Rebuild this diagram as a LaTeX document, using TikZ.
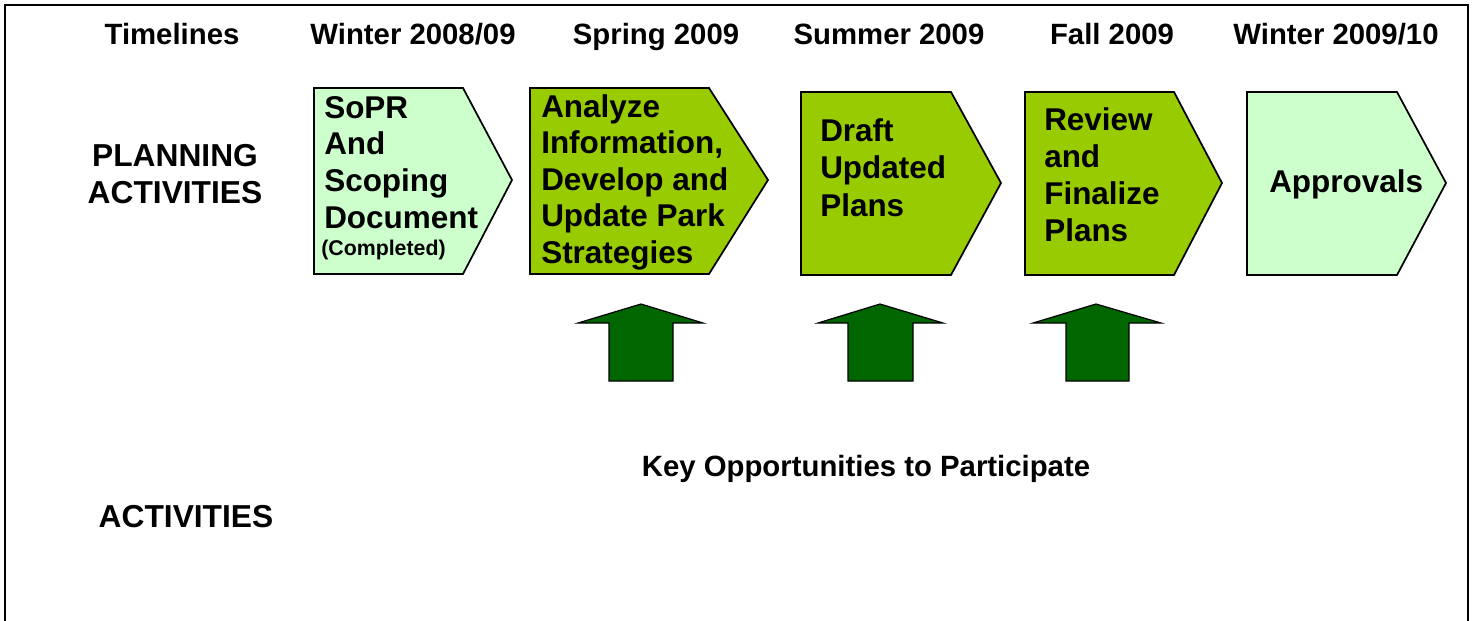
\documentclass[tikz,border=0pt]{standalone}
\usepackage{fontspec}
\setmainfont{Liberation Sans}
\definecolor{lightg}{HTML}{CCFFCC}
\definecolor{midg}{HTML}{99CC00}
\definecolor{darkg}{HTML}{006600}
\begin{document}
\begin{tikzpicture}[x=0.75pt,y=-0.75pt,
  hdr/.style={anchor=base,inner sep=0,font=\fontsize{22}{26}\selectfont\bfseries},
  side/.style={anchor=base,inner sep=0,font=\fontsize{23.8}{28}\selectfont\bfseries},
  btxt/.style={anchor=base west,inner sep=0,font=\fontsize{23.6}{27}\selectfont\bfseries},
  small/.style={anchor=base west,inner sep=0,font=\fontsize{16}{19}\selectfont\bfseries},
  pent/.style={draw=black,line width=1.3pt,line join=miter},
  uparrow/.style={draw=black,line width=0.9pt,fill=darkg,line join=miter}]
\useasboundingbox (0,0) rectangle (1475,621);
% frame
\draw[line width=1.5pt] (5,625) -- (5,5) -- (1468,5) -- (1468,625);
% headers
\node[hdr] (h0) at (172,45) {Timelines};
\node[hdr] (h1) at (413,45) {Winter 2008/09};
\node[hdr] (h2) at (656,45) {Spring 2009};
\node[hdr] (h3) at (889,45) {Summer 2009};
\node[hdr] (h4) at (1112,45) {Fall 2009};
\node[hdr] (h5) at (1336,45) {Winter 2009/10};
\node[side] (pa1) at (175,166) {PLANNING};
\node[side] (pa2) at (175,203) {ACTIVITIES};
\node[side] (act) at (186,527) {ACTIVITIES};
\node[hdr] (key) at (866,476) {Key Opportunities to Participate};
% pentagons
\draw[pent,fill=lightg] (314,88) -- (463,88) -- (512,180) -- (463,274) -- (314,274) -- cycle;
\draw[pent,fill=midg] (530,88) -- (709,88) -- (768,180) -- (709,274) -- (530,274) -- cycle;
\draw[pent,fill=midg] (801,92) -- (951,92) -- (1001,183) -- (951,275) -- (801,275) -- cycle;
\draw[pent,fill=midg] (1025,92) -- (1174,92) -- (1222,183) -- (1174,275) -- (1025,275) -- cycle;
\draw[pent,fill=lightg] (1247,92) -- (1397,92) -- (1446,183) -- (1397,275) -- (1247,275) -- cycle;
% box texts
\foreach \t [count=\i] in {SoPR,And,Scoping,Document}
  \node[btxt] (s\i) at (324,{118+36.8*(\i-1)}) {\t};
\node[small] (s5) at (321,255) {(Completed)};
\foreach \t [count=\i] in {Analyze,{Information,},Develop and,Update Park,Strategies}
  \node[btxt] (a\i) at (541,{117+36.5*(\i-1)}) {\t};
\foreach \t [count=\i] in {Draft,Updated,Plans}
  \node[btxt] (d\i) at (820,{141+37.5*(\i-1)}) {\t};
\foreach \t [count=\i] in {Review,and,Finalize,Plans}
  \node[btxt] (r\i) at (1044,{130+37*(\i-1)}) {\t};
\node[btxt] (ap) at (1269,192) {Approvals};
% up arrows
\draw[uparrow] (578,323) -- (641,304) -- (703,323) -- (673,323) -- (673,381) -- (609,381) -- (609,323) -- cycle;
\draw[uparrow] (818,323) -- (880,304) -- (943,323) -- (913,323) -- (913,381) -- (848,381) -- (848,323) -- cycle;
\draw[uparrow] (1033,323) -- (1096,304) -- (1161,323) -- (1129,323) -- (1129,381) -- (1066,381) -- (1066,323) -- cycle;
\end{tikzpicture}
\end{document}
